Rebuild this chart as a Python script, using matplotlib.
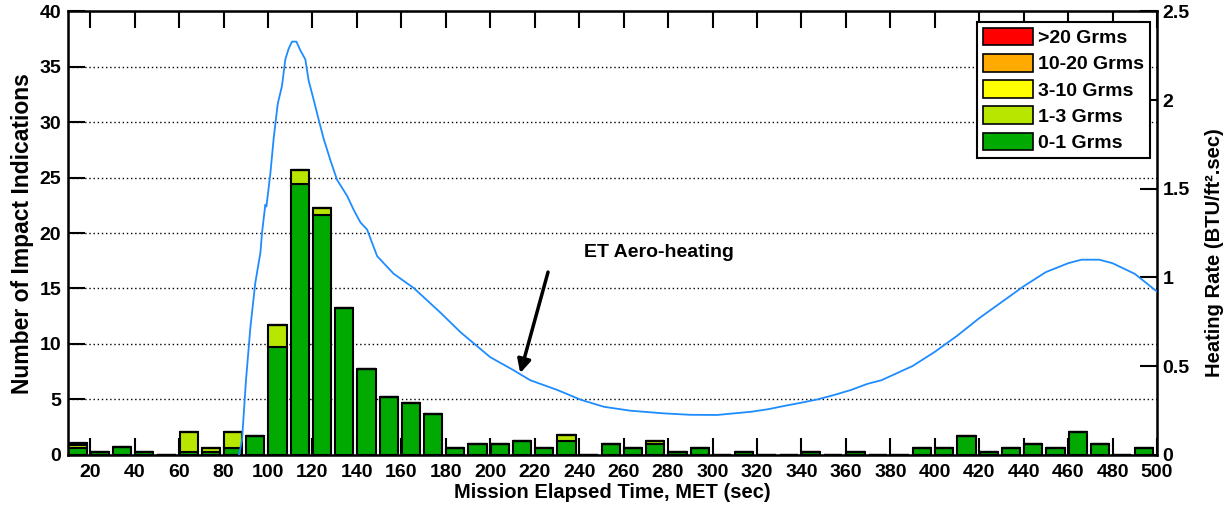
import matplotlib
matplotlib.use("Agg")
import matplotlib.pyplot as plt
from matplotlib.patches import Patch

plt.rcParams['font.family'] = ['Liberation Sans', 'DejaVu Sans']
plt.rcParams['font.weight'] = 'bold'

# ---- data ----
bin_start = list(range(10, 500, 10))
g01 = [0.63, 0.21, 0.65, 0.21, 0, 0.24, 0.24, 0.6, 1.73,
       9.7, 24.4, 21.6, 13.2, 7.7, 5.25, 4.65, 3.7, 0.63, 0.99,
       0.99, 1.27, 0.63, 1.27, 0, 0.99, 0.63, 0.93, 0.21, 0.63,
       0, 0.21, 0, 0, 0.21, 0, 0.21, 0, 0, 0.63,
       0.63, 1.71, 0.21, 0.63, 0.99, 0.63, 2.08, 0.99, 0, 0.63]
g13 = [0.2, 0, 0, 0, 0, 1.84, 0.4, 1.48, 0,
       2.0, 1.25, 0.65, 0, 0, 0, 0, 0, 0, 0,
       0, 0, 0, 0.48, 0, 0, 0, 0.33, 0, 0,
       0, 0, 0, 0, 0, 0, 0, 0, 0, 0,
       0, 0, 0, 0, 0, 0, 0, 0, 0, 0]
g310 = [0.2] + [0] * 48
g1020 = [0] * 49
g20 = [0] * 49

heat_t = [87, 88.3, 90.1, 92.1, 94.3, 96.6, 97.3, 98.8, 99.3, 101.1, 102.6,
          104.4, 106.3, 107.8, 109.3, 110.8, 112.8, 114.6, 116.8, 118.3,
          120.6, 122.8, 125.1, 128.1, 131.1, 135.6, 138.6, 141.6, 144.6,
          149.1, 156.6, 165.6, 177.7, 186.7, 200, 210, 218, 230.2, 240.7,
          251.2, 263.2, 278.2, 290, 302, 309.6, 317.3, 324.8, 332.3, 339.8,
          347.3, 354.8, 362.3, 369.8, 376, 390, 400, 410, 420, 430, 440,
          450, 460, 466, 474, 480, 490, 500]
heat_v = [0.0, 0.08, 0.42, 0.72, 0.97, 1.14, 1.25, 1.41, 1.40, 1.59, 1.79,
          1.98, 2.08, 2.23, 2.29, 2.33, 2.33, 2.28, 2.23, 2.11,
          2.00, 1.89, 1.78, 1.66, 1.55, 1.46, 1.38, 1.31, 1.27,
          1.12, 1.02, 0.94, 0.80, 0.69, 0.55, 0.48, 0.42, 0.365, 0.31,
          0.27, 0.248, 0.233, 0.225, 0.224, 0.233, 0.242, 0.256, 0.275, 0.293,
          0.312, 0.337, 0.365, 0.40, 0.42, 0.50, 0.58, 0.67, 0.77, 0.86, 0.95,
          1.03, 1.08, 1.10, 1.10, 1.08, 1.02, 0.92]

labels = ['0-1 Grms', '1-3 Grms', '3-10 Grms', '10-20 Grms', '>20 Grms']
colors = ['#00AA00', '#B8E600', '#FFFF00', '#FFAA00', '#FF0000']
xticks = list(range(20, 501, 20))
yticks_l = list(range(0, 41, 5))
yticks_r = [0, 0.5, 1, 1.5, 2, 2.5]

# ---- figure ----
fig = plt.figure(figsize=(12.31, 5.11), dpi=100)
ax = fig.add_axes([0.0552, 0.1102, 0.8847, 0.8673])

series = [g01, g13, g310, g1020, g20]
bottom = [0.0] * len(bin_start)
left = [b + 0.2 for b in bin_start]
for vals, col, lab in zip(series, colors, labels):
    ax.bar(left, vals, width=8.2, bottom=bottom, align='edge', color=col,
           edgecolor='black', linewidth=1.5, zorder=2)
    bottom = [b + v for b, v in zip(bottom, vals)]

ax.set_xlim(10, 500)
ax.set_ylim(0, 40)
ax.set_xticks(xticks)
ax.set_yticks(yticks_l)
ax.yaxis.grid(True, linestyle=(0, (1, 2)), color='black', linewidth=1.0)
ax.set_axisbelow(True)
ax.tick_params(axis='both', direction='in', length=12, width=1.5,
               labelsize=14, top=True, right=True, pad=4)
ax.tick_params(axis='x', pad=7)
ax.tick_params(axis='y', pad=5)
for s in ax.spines.values():
    s.set_linewidth(1.8)
ax.set_xlabel('Mission Elapsed Time, MET (sec)', fontsize=14.5, fontweight='bold', labelpad=1)
ax.set_ylabel('Number of Impact Indications', fontsize=16.5, fontweight='bold', labelpad=4)

ax2 = ax.twinx()
ax2.plot(heat_t, heat_v, color='#1E8CFF', linewidth=1.3, zorder=3)
ax2.set_ylim(0, 2.5)
ax2.set_yticks(yticks_r)
ax2.set_yticklabels(['0', '0.5', '1', '1.5', '2', '2.5'])
ax2.tick_params(axis='y', direction='in', length=12, width=1.5, labelsize=14, pad=4)
rl = ax2.set_ylabel('Heating Rate (BTU/ft².sec)', fontsize=14.5, fontweight='bold')
ax2.yaxis.set_label_coords(1.053, 0.455)
rl.set_va('center')
rl.set_ha('center')

ax2.text(242, 1.14, 'ET Aero-heating', fontsize=14, fontweight='bold',
         ha='left', va='center')
ax2.annotate('', xy=(213.5, 0.46), xytext=(226, 1.03),
             arrowprops=dict(arrowstyle='-|>', color='black', lw=2.5,
                             mutation_scale=20, shrinkA=0, shrinkB=0))

handles = [Patch(facecolor=c, edgecolor='black', linewidth=1.2, label=l)
           for c, l in zip(colors, labels)][::-1]
leg = ax2.legend(handles=handles, loc='upper right', bbox_to_anchor=(0.9936, 0.976),
                 prop={'weight': 'bold', 'size': 14}, fancybox=False,
                 framealpha=1, edgecolor='black', handlelength=2.6, handleheight=1.0,
                 labelspacing=0.35, handletextpad=0.25, borderpad=0.3, borderaxespad=0)
leg.get_frame().set_linewidth(1.5)

fig.savefig('out.png', dpi=100)
